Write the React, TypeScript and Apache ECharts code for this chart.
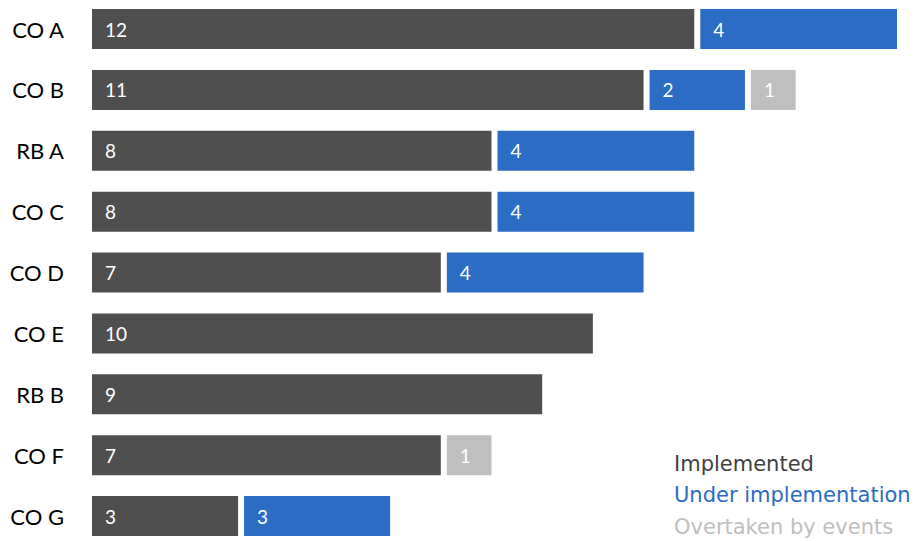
import React, { useEffect, useRef } from "react";
import * as echarts from "echarts";

const categories = ["CO A", "CO B", "RB A", "CO C", "CO D", "CO E", "RB B", "CO F", "CO G"];
const implemented = [12, 11, 8, 8, 7, 10, 9, 7, 3];
const underImplementation = [4, 2, 4, 4, 4, null, null, null, 3];
const overtaken = [null, 1, null, null, null, null, null, 1, null];
const seriesNames = ["Implemented", "Under implementation", "Overtaken by events"];
const barColors = ["#4f4f4f", "#2b6cc4", "#bfbfbf"];
const legendColors = ["#404040", "#2b6cc4", "#bfbfbf"];

const OFFSET = 10;

export default function App() {
  const ref = useRef<HTMLDivElement>(null);
  useEffect(() => {
    if (!ref.current) return;
    const chart = echarts.init(ref.current, undefined, { renderer: "svg" });
    const datasets = [implemented, underImplementation, overtaken];
    const bandH = 60.875;
    chart.setOption({
      animation: false,
      backgroundColor: "#ffffff",
      grid: { left: 89, width: 811, top: OFFSET + 29 - bandH / 2, height: bandH * 9 },
      xAxis: {
        type: "value",
        min: 0,
        max: 16,
        show: false,
      },
      yAxis: {
        type: "category",
        data: categories,
        inverse: true,
        axisLine: { show: false },
        axisTick: { show: false },
        axisLabel: {
          color: "#000000",
          fontFamily: "Lato",
          fontSize: 22,
          margin: 25,
        },
      },
      series: datasets.map((d, i) => ({
        name: seriesNames[i],
        type: "bar",
        stack: "total",
        data: d,
        barWidth: 46,
        itemStyle: { color: barColors[i], borderColor: "#ffffff", borderWidth: 3 },
        label: {
          show: true,
          position: "insideLeft",
          distance: 16,
          color: "#ffffff",
          fontFamily: "Lato",
          fontSize: 19,
        },
      })),
      graphic: seriesNames.map((n, i) => ({
        type: "text",
        left: 674,
        top: OFFSET + 466 + i * 31.5 - 13,
        style: {
          text: n,
          fill: legendColors[i],
          fontFamily: "DejaVu Sans",
          fontSize: 21,
        },
      })),
    });
    return () => chart.dispose();
  }, []);
  return (
    <div style={{ position: "fixed", left: 0, top: 0, width: 922, height: 541, overflow: "hidden", background: "#fff" }}>
      <div
        ref={ref}
        style={{ position: "absolute", left: 0, top: -OFFSET, width: 922, height: 541 + 2 * OFFSET }}
      />
    </div>
  );
}
